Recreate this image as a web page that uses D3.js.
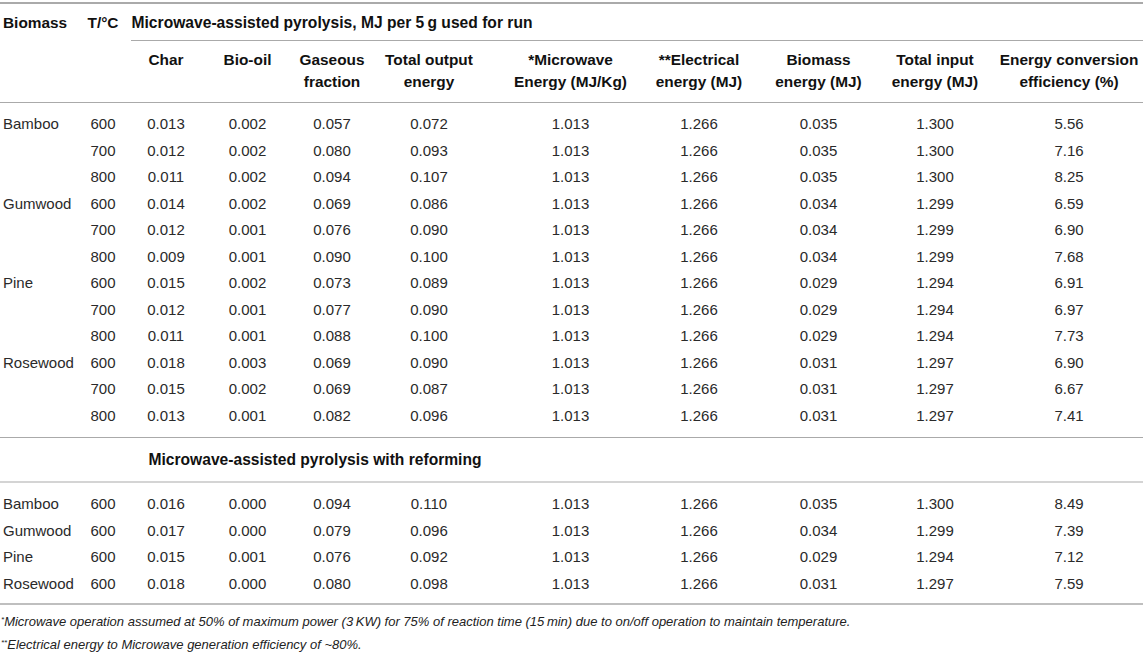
<!DOCTYPE html>
<html>
<head>
<meta charset="utf-8">
<script src="https://cdn.jsdelivr.net/npm/d3@7"></script>
<style>
  body { margin: 0; background: #fff; }
  svg { font-family: "Liberation Sans", Arial, sans-serif; }
</style>
</head>
<body>
<div id="table"></div>
<script>
// pyrolysis rows
const biomass = ["Bamboo", "", "", "Gumwood", "", "", "Pine", "", "", "Rosewood", "", ""];
const temps = ["600", "700", "800", "600", "700", "800", "600", "700", "800", "600", "700", "800"];
const charVals = ["0.013", "0.012", "0.011", "0.014", "0.012", "0.009", "0.015", "0.012", "0.011", "0.018", "0.015", "0.013"];
const bioOilVals = ["0.002", "0.002", "0.002", "0.002", "0.001", "0.001", "0.002", "0.001", "0.001", "0.003", "0.002", "0.001"];
const gasVals = ["0.057", "0.080", "0.094", "0.069", "0.076", "0.090", "0.073", "0.077", "0.088", "0.069", "0.069", "0.082"];
const totalOutVals = ["0.072", "0.093", "0.107", "0.086", "0.090", "0.100", "0.089", "0.090", "0.100", "0.090", "0.087", "0.096"];
const microwaveVals = Array(12).fill("1.013");
const electricalVals = Array(12).fill("1.266");
const biomassEnergyVals = ["0.035", "0.035", "0.035", "0.034", "0.034", "0.034", "0.029", "0.029", "0.029", "0.031", "0.031", "0.031"];
const totalInVals = ["1.300", "1.300", "1.300", "1.299", "1.299", "1.299", "1.294", "1.294", "1.294", "1.297", "1.297", "1.297"];
const efficiencyVals = ["5.56", "7.16", "8.25", "6.59", "6.90", "7.68", "6.91", "6.97", "7.73", "6.90", "6.67", "7.41"];

// pyrolysis with reforming rows
const refBiomass = ["Bamboo", "Gumwood", "Pine", "Rosewood"];
const refTemps = ["600", "600", "600", "600"];
const refChar = ["0.016", "0.017", "0.015", "0.018"];
const refBioOil = ["0.000", "0.000", "0.001", "0.000"];
const refGas = ["0.094", "0.079", "0.076", "0.080"];
const refTotalOut = ["0.110", "0.096", "0.092", "0.098"];
const refMicrowave = Array(4).fill("1.013");
const refElectrical = Array(4).fill("1.266");
const refBiomassEnergy = ["0.035", "0.034", "0.029", "0.031"];
const refTotalIn = ["1.300", "1.299", "1.294", "1.297"];
const refEfficiency = ["8.49", "7.39", "7.12", "7.59"];

const columns = ["biomass", "temp", "char", "bioOil", "gas", "totalOut", "microwave", "electrical", "biomassEnergy", "totalIn", "efficiency"];
const headers = [
  ["Biomass"], ["T/°C"], ["Char"], ["Bio-oil"], ["Gaseous", "fraction"], ["Total output", "energy"],
  ["*Microwave", "Energy (MJ/Kg)"], ["**Electrical", "energy (MJ)"], ["Biomass", "energy (MJ)"],
  ["Total input", "energy (MJ)"], ["Energy conversion", "efficiency (%)"]
];
const footnotes = [
  ["*", "Microwave operation assumed at 50% of maximum power (3\u2009KW) for 75% of reaction time (15\u2009min) due to on/off operation to maintain temperature."],
  ["**", "Electrical energy to Microwave generation efficiency of ~80%."]
];

const width = 1143, height = 654;
const svg = d3.select("#table").append("svg")
    .attr("width", width)
    .attr("height", height);

const x = d3.scaleOrdinal()
    .domain(columns)
    .range([3, 103, 166, 247.5, 332, 429, 570.5, 699, 818.5, 935, 1069]);

const y1 = d3.scaleLinear().domain([0, 11]).range([124, 415.5]);
const y2 = d3.scaleLinear().domain([0, 3]).range([504, 583.5]);

const ruleColor = "#aaa";
function rule(yy, x0, w) {
  svg.append("line")
      .attr("x1", x0).attr("x2", width)
      .attr("y1", yy).attr("y2", yy)
      .attr("stroke", ruleColor)
      .attr("stroke-width", w);
}
rule(3, 0, 2);
rule(40.5, 131, 1.2);
rule(102.5, 0, 1.2);
rule(437.5, 0, 1.2);
rule(482, 0, 1.2);
rule(604, 0, 1.5);

const boldSize = 15.4;

// header
svg.append("text")
    .attr("x", x("biomass")).attr("y", 22.5).attr("dy", "0.35em")
    .attr("font-size", boldSize).attr("font-weight", "bold").attr("fill", "#111")
    .text("Biomass");
svg.append("text")
    .attr("x", x("temp")).attr("y", 22.5).attr("dy", "0.35em")
    .attr("text-anchor", "middle")
    .attr("font-size", boldSize).attr("font-weight", "bold").attr("fill", "#111")
    .text("T/°C");
svg.append("text")
    .attr("x", 131.5).attr("y", 22.5).attr("dy", "0.35em")
    .attr("font-size", 15.6).attr("font-weight", "bold").attr("fill", "#111")
    .attr("textLength", 401).attr("lengthAdjust", "spacing")
    .text("Microwave-assisted pyrolysis, MJ per 5\u2009g used for run");

headers.forEach((h, i) => {
  if (i < 2) return;
  h.forEach((line, j) => {
    svg.append("text")
        .attr("x", x(columns[i]))
        .attr("y", 59.5 + j * 21.7)
        .attr("dy", "0.35em")
        .attr("text-anchor", "middle")
        .attr("font-size", boldSize).attr("font-weight", "bold").attr("fill", "#111")
        .text(line);
  });
});

function drawRows(cols, yScale) {
  const n = cols[0].length;
  d3.range(n).forEach(r => {
    columns.forEach((c, ci) => {
      svg.append("text")
          .attr("x", x(c))
          .attr("y", yScale(r))
          .attr("dy", "0.35em")
          .attr("text-anchor", ci === 0 ? "start" : "middle")
          .attr("font-size", 15)
          .attr("fill", "#2a2a2a")
          .text(cols[ci][r]);
    });
  });
}

drawRows([biomass, temps, charVals, bioOilVals, gasVals, totalOutVals, microwaveVals,
  electricalVals, biomassEnergyVals, totalInVals, efficiencyVals], y1);

// reforming section title
svg.append("text")
    .attr("x", 148.5).attr("y", 460).attr("dy", "0.35em")
    .attr("font-size", 15.6).attr("font-weight", "bold").attr("fill", "#111")
    .attr("textLength", 333).attr("lengthAdjust", "spacing")
    .text("Microwave-assisted pyrolysis with reforming");

drawRows([refBiomass, refTemps, refChar, refBioOil, refGas, refTotalOut, refMicrowave,
  refElectrical, refBiomassEnergy, refTotalIn, refEfficiency], y2);

// footnotes
footnotes.forEach((f, i) => {
  const t = svg.append("text")
      .attr("x", 1)
      .attr("y", 624 + i * 23)
      .attr("dy", "0.35em")
      .attr("font-size", 13)
      .attr("font-style", "italic")
      .attr("fill", "#222");
  t.append("tspan")
      .attr("font-size", 8)
      .attr("dy", "-0.3em")
      .text(f[0]);
  t.append("tspan")
      .attr("dy", "0.3em")
      .text(f[1]);
});
</script>
</body>
</html>
